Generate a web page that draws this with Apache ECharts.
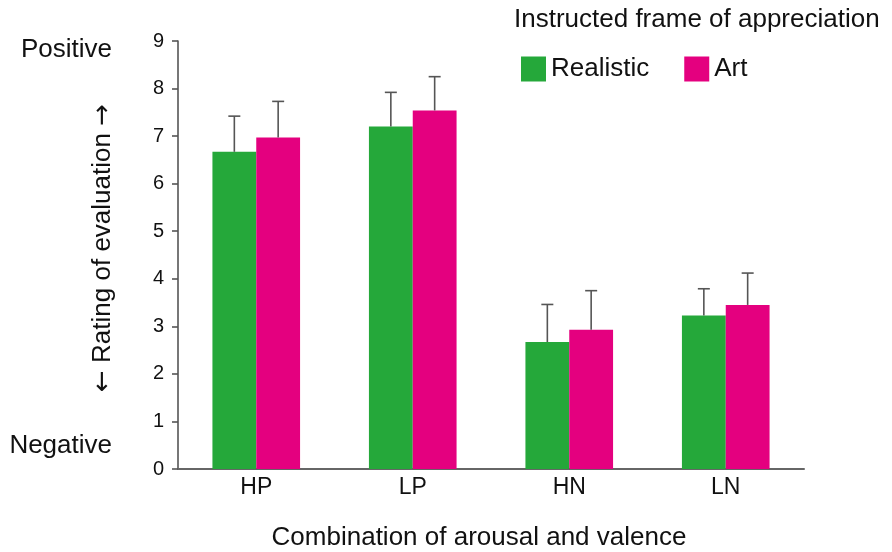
<!DOCTYPE html>
<html>
<head>
<meta charset="utf-8">
<script src="https://cdn.jsdelivr.net/npm/echarts@6/dist/echarts.min.js"></script>
<style>
html, body { margin: 0; padding: 0; background: #fff; }
#chart { width: 892px; height: 552px; }
</style>
</head>
<body>
<div id="chart"></div>
<script>
var categories = ['HP', 'LP', 'HN', 'LN'];
var realistic = [6.67, 7.20, 2.67, 3.23];
var art = [6.97, 7.54, 2.93, 3.45];
// upper error bar lengths
var realisticErr = [0.75, 0.72, 0.79, 0.56];
var art_err = [0.76, 0.71, 0.82, 0.67];
var seriesNames = ['Realistic', 'Art'];

var FONT = '"Liberation Sans", Arial, sans-serif';
var green = '#25a83a';
var pink = '#e4007f';

var myChart = echarts.init(document.getElementById('chart'));

function errorBars(values, errs, side) {
    return {
        type: 'custom',
        silent: true,
        z: 5,
        data: values.map(function (v, i) { return [i, v, v + errs[i]]; }),
        renderItem: function (params, api) {
            var band = api.size([1, 0])[0];
            var barW = band * 0.56 / 2;
            var base = api.coord([api.value(0), api.value(1)]);
            var top = api.coord([api.value(0), api.value(2)]);
            var x = base[0] + side * barW / 2;
            var style = { stroke: '#555', lineWidth: 1.6 };
            return {
                type: 'group',
                children: [
                    { type: 'line', shape: { x1: x, y1: base[1], x2: x, y2: top[1] }, style: style },
                    { type: 'line', shape: { x1: x - 6, y1: top[1], x2: x + 6, y2: top[1] }, style: style }
                ]
            };
        }
    };
}

var option = {
    animation: false,
    textStyle: { fontFamily: FONT },
    grid: { left: 178, right: 88, top: 41, bottom: 83 },
    legend: {
        left: 516,
        top: 51,
        itemWidth: 25,
        itemHeight: 25,
        itemGap: 35,
        icon: 'rect',
        textStyle: { fontSize: 26, color: '#111', fontFamily: FONT },
        data: seriesNames
    },
    xAxis: {
        type: 'category',
        data: categories,
        axisLine: { lineStyle: { color: '#666', width: 2 } },
        axisTick: { show: false },
        axisLabel: { fontSize: 23, color: '#111', margin: 7, fontFamily: FONT }
    },
    yAxis: {
        type: 'value',
        min: 0,
        max: 9,
        interval: 1,
        splitLine: { show: false },
        axisLine: { show: true, lineStyle: { color: '#555', width: 1.6 } },
        axisTick: { show: true, length: 6, lineStyle: { color: '#555', width: 1.6 } },
        axisLabel: { fontSize: 20, color: '#111', margin: 14, fontFamily: FONT }
    },
    graphic: [
        { type: 'text', x: 514, y: 20, style: { text: 'Instructed frame of appreciation', font: '26px ' + FONT, fill: '#111', textVerticalAlign: 'middle' } },
        { type: 'text', x: 112, y: 50, style: { text: 'Positive', font: '26px ' + FONT, fill: '#111', textAlign: 'right', textVerticalAlign: 'middle' } },
        { type: 'text', x: 112, y: 446, style: { text: 'Negative', font: '26px ' + FONT, fill: '#111', textAlign: 'right', textVerticalAlign: 'middle' } },
        {
            type: 'text', x: 103, y: 248, rotation: Math.PI / 2,
            style: {
                text: '{a|\u2190} Rating of evaluation {a|\u2192}',
                font: '26px ' + FONT, fill: '#111', textAlign: 'center', textVerticalAlign: 'middle',
                rich: { a: { fontFamily: '"DejaVu Sans"', fontSize: 26, fill: '#111' } }
            }
        },
        { type: 'text', x: 479, y: 538, style: { text: 'Combination of arousal and valence', font: '26px ' + FONT, fill: '#111', textAlign: 'center', textVerticalAlign: 'middle' } }
    ],
    series: [
        {
            name: seriesNames[0],
            type: 'bar',
            data: realistic,
            barGap: 0,
            barCategoryGap: '44%',
            itemStyle: { color: green }
        },
        {
            name: seriesNames[1],
            type: 'bar',
            data: art,
            barGap: 0,
            barCategoryGap: '44%',
            itemStyle: { color: pink }
        },
        errorBars(realistic, realisticErr, -1),
        errorBars(art, art_err, 1)
    ]
};

myChart.setOption(option);
</script>
</body>
</html>
